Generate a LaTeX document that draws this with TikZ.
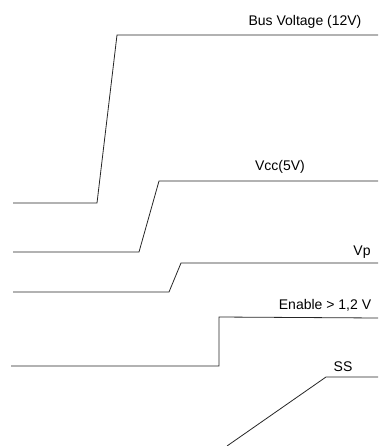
\documentclass[tikz,border=0pt]{standalone}
\usepackage{fontspec}
\setmainfont{Liberation Sans}
\begin{document}
\begin{tikzpicture}[x=1pt,y=-1pt,line width=0.8pt,
    sig/.style={draw=black!85, line join=miter},
    siglabel/.style={inner sep=0pt, font=\fontsize{14}{16}\selectfont}]
        \useasboundingbox (0,0) rectangle (378,446);

        % Define the signal corners
        \coordinate (Bus0) at (13,203);
        \coordinate (Bus1) at (97,203);
        \coordinate (Bus2) at (117,35);
        \coordinate (Bus3) at (378,35);

        \coordinate (Vcc0) at (13,252);
        \coordinate (Vcc1) at (139,252);
        \coordinate (Vcc2) at (159,181);
        \coordinate (Vcc3) at (378,181);

        \coordinate (Vp0) at (13,292);
        \coordinate (Vp1) at (169,292);
        \coordinate (Vp2) at (181,263);
        \coordinate (Vp3) at (378,263);

        \coordinate (En0) at (11,366);
        \coordinate (En1) at (219,366);
        \coordinate (En2) at (219,317);
        \coordinate (En3) at (378,318);

        \coordinate (SS0) at (227,446);
        \coordinate (SS1) at (326,377);
        \coordinate (SS2) at (378,377);

        % Draw the signals
        \draw[sig] (Bus0) -- (Bus1) -- (Bus2) -- (Bus3);
        \draw[sig] (Vcc0) -- (Vcc1) -- (Vcc2) -- (Vcc3);
        \draw[sig] (Vp0) -- (Vp1) -- (Vp2) -- (Vp3);
        \draw[sig] (En0) -- (En1) -- (En2) -- (En3);
        \draw[sig] (SS0) -- (SS1) -- (SS2);

        % Labels
        \node[siglabel] (BusLabel) at (305,22) {Bus Voltage (12V)};
        \node[siglabel] (VccLabel) at (280,167) {Vcc(5V)};
        \node[siglabel] (VpLabel) at (362,252) {Vp};
        \node[siglabel] (EnLabel) at (325,305) {Enable > 1,2 V};
        \node[siglabel] (SSLabel) at (343,367) {SS};
\end{tikzpicture}
\end{document}
